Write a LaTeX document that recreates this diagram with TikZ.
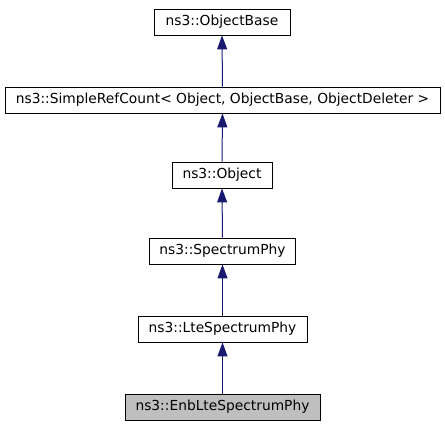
\documentclass[tikz,border=0pt]{standalone}
\usepackage{fontspec}
\setmainfont{DejaVu Sans}
\usetikzlibrary{arrows.meta}
\definecolor{edgeblue}{RGB}{25,25,112}
\definecolor{curgray}{RGB}{191,191,191}
\begin{document}
\begin{tikzpicture}[x=1pt,y=-1pt]
\tikzstyle{every node}+=[inner sep=0pt]
\tikzstyle{cls}=[draw=black, line width=0.9pt, fill=white, minimum height=26pt, font=\fontsize{13.8}{16}\selectfont]
\tikzstyle{inh}=[draw=edgeblue, line width=1pt, {Triangle[width=10pt,length=14pt,fill=edgeblue]}-]
\useasboundingbox (0,0) rectangle (445,427);
\node [cls, minimum width=136pt] (objbase) at (222,22) {ns3::ObjectBase};
\node [cls, minimum width=435pt] (refcount) at (222.5,100) {ns3::SimpleRefCount< Object, ObjectBase, ObjectDeleter >};
\node [cls, minimum width=100pt] (object) at (222,175) {ns3::Object};
\node [cls, minimum width=146pt] (specphy) at (222.5,251) {ns3::SpectrumPhy};
\node [cls, minimum width=169pt] (ltephy) at (222.5,329) {ns3::LteSpectrumPhy};
\node [cls, minimum width=195pt, fill=curgray] (enbphy) at (222.5,407) {ns3::EnbLteSpectrumPhy};

\draw [inh] (objbase.south) -- (refcount.north);
\draw [inh] (refcount.south) -- (object.north);
\draw [inh] (object.south) -- (specphy.north);
\draw [inh] (specphy.south) -- (ltephy.north);
\draw [inh] (ltephy.south) -- (enbphy.north);
\end{tikzpicture}
\end{document}
